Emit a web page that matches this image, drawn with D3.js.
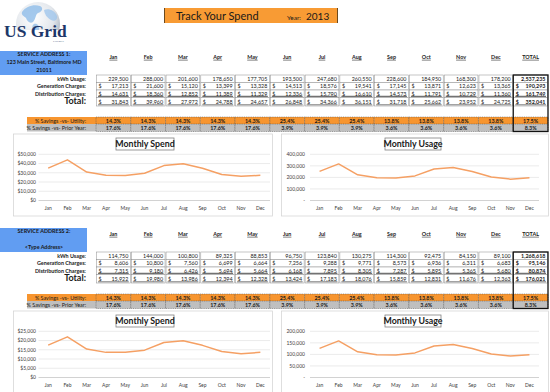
<!DOCTYPE html>
<html><head><meta charset="utf-8">
<script src="https://cdn.jsdelivr.net/npm/d3@7"></script>
<style>body{margin:0;background:#fff}svg{display:block;font-family:Lato,'Open Sans',sans-serif}</style>
</head><body><svg id="c" width="550" height="392"></svg>
<script>
// ---------- data ----------
const months = ["Jan","Feb","Mar","Apr","May","Jun","Jul","Aug","Sep","Oct","Nov","Dec"];
const columns = months.concat(["TOTAL"]);
const rowLabels = ["kWh Usage:","Generation Charges:","Distribution Charges:","Total:"];
const savingsLabels = ["% Savings -vs- Utility:","% Savings -vs- Prior Year:"];

const address1 = ["SERVICE ADDRESS 1:","123 Main Street, Baltimore MD","21011"];
const kwh1  = [229500,288000,201600,178650,177705,193500,247680,260550,228600,184950,168300,178200];
const gen1  = [17213,21600,15120,13399,13328,14513,18576,19541,17145,13871,12623,13365];
const dist1 = [14631,18360,12852,11389,11329,12336,15790,16610,14573,11791,10729,11360];
const tot1  = [31843,39960,27972,24788,24657,26848,34366,36151,31718,25662,23952,24725];
const totals1 = [2537235,190293,161749,352041];

const address2 = ["SERVICE ADDRESS 2:","","<Type Address>"];
const kwh2  = [114750,144000,100800,89325,88853,96750,123840,130275,114300,92475,84150,89100];
const gen2  = [8606,10800,7560,6699,6664,7256,9288,9771,8573,6936,6311,6683];
const dist2 = [7315,9180,6426,5694,5664,6168,7895,8305,7287,5895,5365,5680];
const tot2  = [15922,19980,13986,12394,12328,13424,17183,18076,15859,12831,11676,12363];
const totals2 = [1268618,95146,80874,176021];

const savingsUtility = [14.3,14.3,14.3,14.3,14.3,25.4,25.4,25.4,13.8,13.8,13.8,13.8];
const savingsUtilityTotal = 17.5;
const savingsPrior = [17.6,17.6,17.6,17.6,17.6,3.9,3.9,3.9,3.6,3.6,3.6,3.6];
const savingsPriorTotal = 8.3;

// chart series
const spend1 = [35000,44000,30800,27300,27100,29500,37800,39800,34900,28200,26300,27200];
const usage1 = [252000,317000,222000,196500,195500,213000,272500,286500,251500,203500,185000,196000];
const spend2 = [17500,22000,15400,13600,13600,14800,18900,19900,17400,14100,12800,13600];
const usage2 = [126000,158500,111000,98300,97700,106500,136200,143300,125700,101700,92600,98000];

const spendTicks1 = [0,10000,20000,30000,40000,50000];
const usageTicks1 = [0,100000,200000,300000,400000];
const spendTicks2 = [0,5000,10000,15000,20000,25000];
const usageTicks2 = [0,50000,100000,150000,200000];

// ---------- drawing ----------
const svg = d3.select("#c");
const ORANGE = "#F89B34", SAVE_OR = "#F7952F", GRAY = "#BFBFBF", BLUE = "#619DF2", LINE = "#F5A064";
const fmt = d3.format(",");

// logo
const defs = svg.append("defs");
const rg = defs.append("radialGradient").attr("id","globe").attr("cx","40%").attr("cy","35%").attr("r","65%");
rg.append("stop").attr("offset","0%").attr("stop-color","#ffffff");
rg.append("stop").attr("offset","70%").attr("stop-color","#e3e7ec");
rg.append("stop").attr("offset","100%").attr("stop-color","#b3bcc7");
defs.append("clipPath").attr("id","gclip").append("rect").attr("x",0).attr("y",0).attr("width",80).attr("height",30);
const logo = svg.append("g").attr("clip-path","url(#gclip)");
logo.append("circle").attr("cx",38).attr("cy",24).attr("r",22).attr("fill","url(#globe)");
logo.append("path").attr("d","M22,12 C26,6 34,4 40,6 C44,8 42,12 38,13 C35,15 36,19 33,22 C30,24 27,21 26,18 C24,16 21,15 22,12Z").attr("fill","#8dbbe8").attr("opacity",0.8);
logo.append("path").attr("d","M44,10 C49,8 55,11 57,16 C58,20 54,22 51,20 C48,18 45,16 44,10Z").attr("fill","#9cc4ec").attr("opacity",0.75);
logo.append("path").attr("d","M34,24 C37,23 40,26 39,30 L33,30 C32,28 32,25 34,24Z").attr("fill","#8dbbe8").attr("opacity",0.75);
svg.append("text").attr("x",4).attr("y",37).attr("font-family","'Liberation Serif',serif").attr("font-weight","bold")
  .attr("font-size",17.5).attr("fill","#1d3769").text("US Grid");
svg.append("text").attr("x",53).attr("y",42).attr("font-family","'Liberation Serif',serif").attr("font-size",2.8).attr("fill","#1d3769").text("ENERGY");

// banner
svg.append("rect").attr("x",164).attr("y",8).attr("width",174).attr("height",15).attr("fill",ORANGE);
svg.append("line").attr("x1",164.5).attr("x2",164.5).attr("y1",8).attr("y2",23).attr("stroke","#6b4a1f").attr("stroke-width",1);
svg.append("line").attr("x1",337.5).attr("x2",337.5).attr("y1",8).attr("y2",23).attr("stroke","#6b4a1f").attr("stroke-width",1);
svg.append("text").attr("x",176).attr("y",20).attr("font-size",11).attr("fill","#1a1a1a").text("Track Your Spend");
svg.append("text").attr("x",287).attr("y",19.5).attr("font-size",6.5).attr("fill","#1a1a1a").text("Year:");
svg.append("text").attr("x",306).attr("y",20).attr("font-size",10).attr("fill","#1a1a1a").text("2013");

const colX = d3.scaleBand().domain(columns).range([96,548]);
const bw = colX.bandwidth();
const rowY = [75,82.5,90,97.5,106];

function drawSection(off, address, rows, totals, spend, usage, sTicks, uTicks) {
  const g = svg.append("g").attr("transform",`translate(0,${off})`);
  // address box
  g.append("rect").attr("x",0).attr("y",51).attr("width",87).attr("height",24).attr("fill",BLUE);
  address.forEach((t,i)=>g.append("text").attr("x",44).attr("y",56.3+i*7.8).attr("text-anchor","middle")
    .attr("font-size",5.4).attr("font-weight","bold").attr("fill","#1a1a1a").text(t));
  // headers
  columns.forEach(c=>{
    g.append("text").attr("x",colX(c)+bw/2).attr("y",58.8).attr("text-anchor","middle")
      .attr("font-size",5.4).attr("font-weight","bold").attr("text-decoration","underline").attr("fill","#1a1a1a").text(c);
  });
  // row labels
  rowLabels.forEach((l,r)=>g.append("text").attr("x",86).attr("y",r===3?104.3:rowY[r]+5.7).attr("text-anchor","end")
    .attr("font-size",r===3?9:5.4).attr("font-weight","bold").attr("fill","#1a1a1a").text(l));
  // cells
  columns.forEach((c,i)=>{
    const x = colX(c);
    rows.forEach((vals,r)=>{
      const v = i<12 ? vals[i] : totals[r];
      const y0 = rowY[r], y1 = rowY[r+1];
      g.append("rect").attr("x",x+0.5).attr("y",y0).attr("width",bw-1).attr("height",y1-y0)
        .attr("fill","#fff").attr("stroke","#8c8c8c").attr("stroke-width",0.5);
      const bold = i===12 ? "bold" : "normal";
      const base = r===3 ? y0+6.3 : y0+5.6;
      g.append("text").attr("x",x+bw-2.5).attr("y",base).attr("text-anchor","end").attr("font-size",5.4)
        .attr("font-weight",bold).attr("fill","#1a1a1a").text(fmt(v));
      if (r>0) g.append("text").attr("x",x+2.5).attr("y",base).attr("font-size",5.4).attr("font-weight",bold).attr("fill","#1a1a1a").text("$");
      if (r>=2) g.append("line").attr("x1",x+2).attr("x2",x+bw-2).attr("y1",y1-1.2).attr("y2",y1-1.2)
        .attr("stroke","#222").attr("stroke-width",r===2?0.8:0.6);
    });
  });
  // savings rows
  const sv = [[savingsUtility,savingsUtilityTotal,SAVE_OR,117],[savingsPrior,savingsPriorTotal,GRAY,124]];
  sv.forEach(([vals,tot,fill,y],k)=>{
    g.append("rect").attr("x",27).attr("y",y).attr("width",69).attr("height",7.5).attr("fill",fill);
    g.append("text").attr("x",86).attr("y",y+5.6).attr("text-anchor","end").attr("font-size",5.4).attr("fill","#1a1a1a").text(savingsLabels[k]);
    columns.forEach((c,i)=>{
      const v = i<12 ? vals[i] : tot;
      g.append("rect").attr("x",colX(c)).attr("y",y).attr("width",bw).attr("height",7.5).attr("fill",fill)
        .attr("stroke","#4d4d4d").attr("stroke-width",0.5).attr("stroke-dasharray","1,0.8");
      g.append("text").attr("x",colX(c)+bw/2).attr("y",y+5.6).attr("text-anchor","middle").attr("font-size",5.4)
        .attr("font-weight","bold").attr("fill","#1a1a1a").text(v.toFixed(1)+"%");
    });
  });
  // thick total box
  g.append("rect").attr("x",colX("TOTAL")).attr("y",75).attr("width",bw).attr("height",56.5)
    .attr("fill","none").attr("stroke","#111").attr("stroke-width",1.3);

  // charts
  drawChart(g,{fx:13,fw:259,title:"Monthly Spend",tx:116,tw:58,labelX:36,range:[38.5,270],
    data:spend,ticks:sTicks,max:sTicks[sTicks.length-1],fmtT:v=>"$"+fmt(v)});
  drawChart(g,{fx:281,fw:267,title:"Monthly Usage",tx:385,tw:56,labelX:305,range:[310,539],
    data:usage,ticks:uTicks,max:uTicks[uTicks.length-1],fmtT:v=>v===0?"-":fmt(v)});
}

function drawChart(g,o){
  g.append("rect").attr("x",o.fx+0.5).attr("y",134).attr("width",o.fw).attr("height",82)
    .attr("fill","#fff").attr("stroke","#d6d6d6").attr("stroke-width",0.8);
  const x = d3.scaleBand().domain(months).range(o.range);
  const y = d3.scaleLinear().domain([0,o.max]).range([200.5,154.3]);
  o.ticks.forEach(t=>{
    g.append("line").attr("x1",o.range[0]).attr("x2",o.range[1]).attr("y1",y(t)).attr("y2",y(t))
      .attr("stroke",t===0?"#bfbfbf":"#e3e3e3").attr("stroke-width",0.7);
    g.append("text").attr("x",o.labelX).attr("y",y(t)+1.8).attr("text-anchor","end").attr("font-size",5)
      .attr("fill","#404040").text(o.fmtT(t));
  });
  months.forEach(m=>g.append("text").attr("x",x(m)+x.bandwidth()/2).attr("y",210).attr("text-anchor","middle")
    .attr("font-size",5).attr("fill","#404040").text(m));
  const line = d3.line().x((d,i)=>x(months[i])+x.bandwidth()/2).y(d=>y(d));
  g.append("path").datum(o.data).attr("d",line).attr("fill","none").attr("stroke",LINE).attr("stroke-width",1.5)
    .attr("stroke-linejoin","round");
  g.append("rect").attr("x",o.tx).attr("y",138).attr("width",o.tw).attr("height",12)
    .attr("fill","#fff").attr("stroke","#808080").attr("stroke-width",0.8);
  g.append("text").attr("x",o.tx+o.tw/2).attr("y",147.3).attr("text-anchor","middle").attr("font-size",8.8)
    .attr("font-weight","bold").attr("fill","#1a1a1a").text(o.title);
}

drawSection(0,address1,[kwh1,gen1,dist1,tot1],totals1,spend1,usage1,spendTicks1,usageTicks1);
drawSection(177,address2,[kwh2,gen2,dist2,tot2],totals2,spend2,usage2,spendTicks2,usageTicks2);
</script></body></html>
